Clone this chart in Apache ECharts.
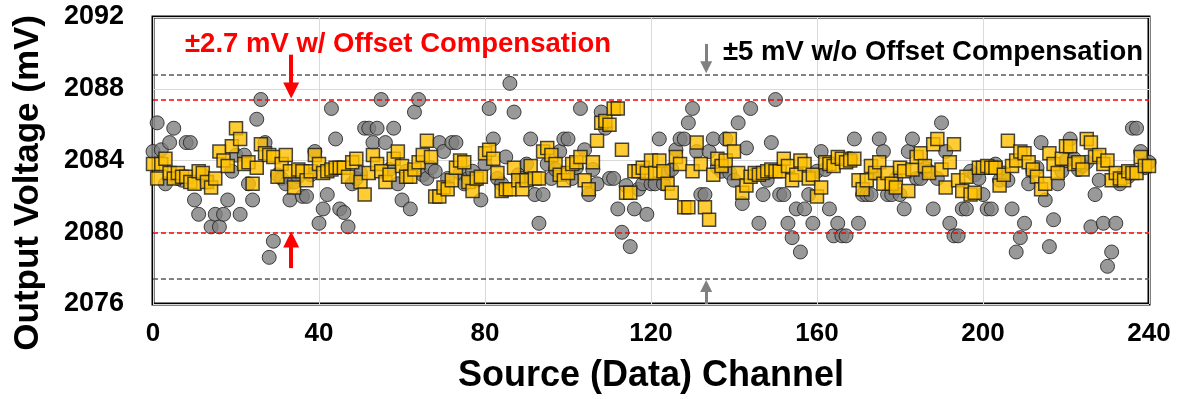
<!DOCTYPE html>
<html>
<head>
<meta charset="utf-8">
<script src="https://cdn.jsdelivr.net/npm/echarts@6/dist/echarts.min.js"></script>
<style>
  html, body { margin: 0; background: #fff; }
  #chart { width: 1177px; height: 399px; }
</style>
</head>
<body>
<div id="chart"></div>
<script>
// axis ticks
const xTicks = [0, 40, 80, 120, 160, 200, 240];
const yTicks = [2076, 2080, 2084, 2088, 2092];

// output voltage per channel (mV), index = channel
const woCompensation = [
  2084.5, 2086.1, 2084.6, 2082.7, 2085.0, 2085.8, 2083.0, 2082.9, 2085.0, 2085.0,
  2081.8, 2081.0, 2083.2, 2082.8, 2080.3, 2081.0, 2080.3, 2081.0, 2081.8, 2083.4,
  2084.3, 2081.0, 2084.3, 2082.7, 2081.8, 2086.3, 2087.4, 2085.0, 2078.6, 2079.5,
  2083.2, 2083.0, 2082.7, 2081.8, 2082.8, 2083.1, 2082.0, 2082.0, 2083.2, 2084.5,
  2080.5, 2081.3, 2082.1, 2086.9, 2085.2, 2081.3, 2081.1, 2080.3, 2082.7, 2083.0,
  2083.3, 2085.8, 2085.8, 2085.0, 2085.8, 2087.4, 2085.0, 2083.5, 2085.8, 2082.7,
  2081.8, 2083.4, 2081.3, 2086.7, 2087.4, 2083.2, 2083.0, 2083.6, 2083.4, 2085.0,
  2084.5, 2083.0, 2085.0, 2085.0, 2083.3, 2082.7, 2083.0, 2083.4, 2082.9, 2081.8,
  2083.8, 2086.9, 2085.2, 2083.0, 2082.7, 2084.2, 2088.3, 2086.7, 2083.2, 2083.0,
  2083.8, 2085.2, 2082.1, 2080.5, 2082.1, 2083.8, 2083.0, 2083.5, 2084.5, 2085.2,
  2085.2, 2083.0, 2083.6, 2086.9, 2084.6, 2082.1, 2083.5, 2082.7, 2086.7, 2085.8,
  2083.0, 2083.0, 2081.3, 2080.0, 2082.6, 2079.2, 2081.3, 2082.4, 2082.7, 2081.0,
  2082.7, 2082.7, 2085.2, 2082.7, 2083.3, 2083.5, 2084.6, 2085.2, 2085.2, 2086.1,
  2086.9, 2084.5, 2082.1, 2082.1, 2084.5, 2085.2, 2083.6, 2083.4, 2085.2, 2083.3,
  2082.9, 2086.1, 2081.6, 2084.7, 2086.9, 2083.2, 2080.5, 2082.1, 2082.9, 2085.0,
  2087.4, 2082.1, 2082.1, 2080.5, 2079.7, 2081.3, 2078.9, 2081.3, 2082.1, 2080.5,
  2083.4, 2084.5, 2083.5, 2081.3, 2079.8, 2080.5, 2079.8, 2079.8, 2084.1, 2085.2,
  2080.5, 2082.1, 2082.1, 2082.1, 2083.3, 2085.2, 2084.5, 2082.1, 2082.1, 2083.0,
  2082.1, 2081.3, 2084.5, 2085.2, 2083.0, 2083.0, 2083.6, 2083.4, 2081.3, 2083.0,
  2086.1, 2084.5, 2080.5, 2079.8, 2079.8, 2081.3, 2081.3, 2083.4, 2083.2, 2083.0,
  2082.1, 2081.3, 2081.3, 2083.8, 2082.9, 2083.3, 2082.9, 2081.3, 2078.9, 2079.7,
  2080.5, 2082.7, 2083.4, 2083.6, 2085.0, 2081.8, 2079.2, 2080.7, 2082.7, 2083.4,
  2084.0, 2085.2, 2084.1, 2083.5, 2083.7, 2083.9, 2080.3, 2082.1, 2082.9, 2080.5,
  2078.1, 2078.9, 2080.5, 2082.7, 2083.3, 2083.1, 2085.8, 2085.8, 2084.5, 2083.6, 2083.9
];

const wCompensation = [
  2083.8, 2083.0, 2083.8, 2084.1, 2083.3, 2083.0, 2083.3, 2083.1, 2083.1, 2082.8,
  2082.7, 2083.4, 2083.3, 2082.8, 2082.5, 2083.0, 2084.5, 2084.0, 2083.7, 2084.8,
  2085.8, 2085.2, 2083.8, 2083.9, 2082.7, 2083.6, 2084.9, 2084.4, 2084.3, 2084.2,
  2083.1, 2083.8, 2084.3, 2083.4, 2082.5, 2083.5, 2083.4, 2082.9, 2083.4, 2084.3,
  2083.8, 2083.3, 2083.4, 2083.5, 2083.6, 2083.6, 2083.6, 2083.1, 2083.9, 2084.1,
  2082.8, 2082.1, 2083.3, 2084.3, 2083.8, 2083.4, 2082.8, 2083.2, 2084.1, 2084.5,
  2083.7, 2083.1, 2083.1, 2083.5, 2083.9, 2084.3, 2085.1, 2084.2, 2082.0, 2082.0,
  2082.5, 2082.4, 2082.9, 2083.6, 2084.0, 2083.9, 2082.8, 2082.3, 2083.0, 2083.1,
  2084.4, 2084.6, 2084.1, 2083.3, 2082.3, 2082.4, 2082.4, 2083.6, 2082.9, 2082.4,
  2082.9, 2083.7, 2083.0, 2083.0, 2084.5, 2084.7, 2084.3, 2083.8, 2083.2, 2082.9,
  2083.3, 2083.8, 2083.9, 2084.2, 2082.9, 2082.4, 2083.9, 2085.1, 2086.1, 2086.2,
  2086.0, 2086.9, 2086.9, 2084.6, 2082.2, 2082.2, 2083.4, 2083.4, 2083.6, 2083.3,
  2084.0, 2083.3, 2084.0, 2083.4, 2082.7, 2082.2, 2084.2, 2083.8, 2081.4, 2081.4,
  2083.4, 2085.0, 2083.8, 2081.4, 2080.7, 2083.2, 2084.1, 2083.7, 2084.0, 2085.2,
  2084.5, 2083.3, 2082.2, 2082.6, 2083.1, 2083.3, 2083.2, 2083.3, 2083.4, 2083.5,
  2083.4, 2083.4, 2084.1, 2083.7, 2082.9, 2083.2, 2084.0, 2083.8, 2083.0, 2083.2,
  2082.0, 2082.5, 2083.9, 2083.8, 2083.7, 2084.2, 2084.1, 2083.9, 2084.0, 2084.1,
  2082.9, 2082.4, 2082.9, 2083.7, 2083.3, 2083.9, 2082.7, 2083.3, 2082.7, 2082.5,
  2083.6, 2083.4, 2082.3, 2083.5, 2084.2, 2084.4, 2083.7, 2083.3, 2084.9, 2085.2,
  2083.5, 2082.5, 2083.9, 2084.9, 2082.9, 2082.3, 2083.1, 2082.1, 2082.2, 2083.6,
  2083.6, 2083.7, 2083.6, 2083.6, 2082.6, 2083.2, 2085.1, 2083.7, 2084.0, 2084.5,
  2084.4, 2083.9, 2083.5, 2083.1, 2082.4, 2082.7, 2084.4, 2083.8, 2083.3, 2084.1,
  2084.8, 2084.8, 2083.8, 2083.9, 2083.5, 2085.2, 2085.0, 2084.2, 2084.3, 2083.8,
  2084.0, 2082.9, 2083.3, 2083.0, 2082.9, 2083.4, 2083.3, 2083.3, 2084.2, 2083.7, 2083.7
];

// dashed spread limits (mV)
const redLimits = [2087.4, 2080.0];
const grayLimits = [2088.8, 2077.4];

// arrows: [channel, from mV, to mV]
const redArrows = [[33.3, 2089.9, 2087.9], [33.3, 2078.0, 2079.6]];
const grayArrows = [[133.3, 2090.5, 2089.2], [133.3, 2076.0, 2077.0]];

const FONT = '"Liberation Sans", Arial, sans-serif';

const toPoints = (values) => values.map((v, i) => [i, v]);

const arrowData = (list, color, width, size) => list.map(([c, from, to]) => [
  { coord: [c, from], symbolSize: size, lineStyle: { color, width, type: 'solid' } },
  { coord: [c, to], symbolSize: size }
]);

const limitData = (list, color) => list.map((y) => ({
  yAxis: y, lineStyle: { color, width: 1.5, type: [5, 3] }
}));

const chart = echarts.init(document.getElementById('chart'), null, { renderer: 'canvas' });

chart.setOption({
  animation: false,
  grid: {
    left: 153, right: 28, top: 17, bottom: 91,
    show: true, borderColor: '#000', borderWidth: 3
  },
  xAxis: {
    type: 'value',
    min: xTicks[0],
    max: xTicks[xTicks.length - 1],
    interval: 40,
    axisLine: { show: false },
    axisTick: { show: false },
    splitLine: { show: true, lineStyle: { color: '#d9d9d9', width: 1 } },
    axisLabel: { color: '#000', fontFamily: FONT, fontWeight: 'bold', fontSize: 26, margin: 17 },
    name: 'Source (Data) Channel',
    nameLocation: 'middle',
    nameGap: 54,
    nameTextStyle: { color: '#000', fontFamily: FONT, fontWeight: 'bold', fontSize: 36 }
  },
  yAxis: {
    type: 'value',
    min: yTicks[0],
    max: yTicks[yTicks.length - 1],
    interval: 4,
    axisLine: { show: false },
    axisTick: { show: false },
    splitLine: { show: true, lineStyle: { color: '#d9d9d9', width: 1 } },
    axisLabel: {
      color: '#000', fontFamily: FONT, fontWeight: 'bold', fontSize: 27, margin: 29,
      formatter: (v) => String(v)
    }
  },
  graphic: [
    {
      type: 'text', left: 185, top: 30, z: 100,
      style: { text: '±2.7 mV w/ Offset Compensation', fill: '#ff0000', font: 'bold 27.5px ' + FONT }
    },
    {
      type: 'text', left: 723, top: 38, z: 100,
      style: { text: '±5 mV w/o Offset Compensation', fill: '#000', font: 'bold 27.5px ' + FONT }
    },
    {
      type: 'text', left: 11, top: 15, z: 100,
      rotation: Math.PI / 2,
      originX: 0, originY: 0,
      style: { text: 'Output Voltage (mV)', fill: '#000', font: 'bold 35px ' + FONT }
    }
  ],
  series: [
    {
      name: 'w/o Offset Compensation',
      type: 'scatter',
      data: toPoints(woCompensation),
      symbol: 'circle',
      symbolSize: 14,
      itemStyle: { color: '#7f7f7f', borderColor: '#1a1a1a', borderWidth: 1 },
      z: 2
    },
    {
      name: 'w/ Offset Compensation',
      type: 'scatter',
      data: toPoints(wCompensation),
      symbol: 'rect',
      symbolSize: 13,
      itemStyle: { color: '#ffc000', borderColor: '#1a1a1a', borderWidth: 1.5 },
      z: 3
    },
    {
      name: 'limits',
      type: 'scatter',
      data: [],
      z: 4,
      markLine: {
        silent: true,
        symbol: ['none', 'none'],
        label: { show: false },
        data: limitData(redLimits, '#ff0000').concat(limitData(grayLimits, '#595959'))
      }
    },
    {
      name: 'arrows',
      type: 'scatter',
      data: [],
      z: 5,
      markLine: {
        silent: true,
        symbol: ['none', 'triangle'],
        label: { show: false },
        data: arrowData(redArrows, '#ff0000', 4, 16).concat(arrowData(grayArrows, '#808080', 3, 12))
      }
    }
  ]
});

window.addEventListener('resize', () => chart.resize());
</script>
</body>
</html>
